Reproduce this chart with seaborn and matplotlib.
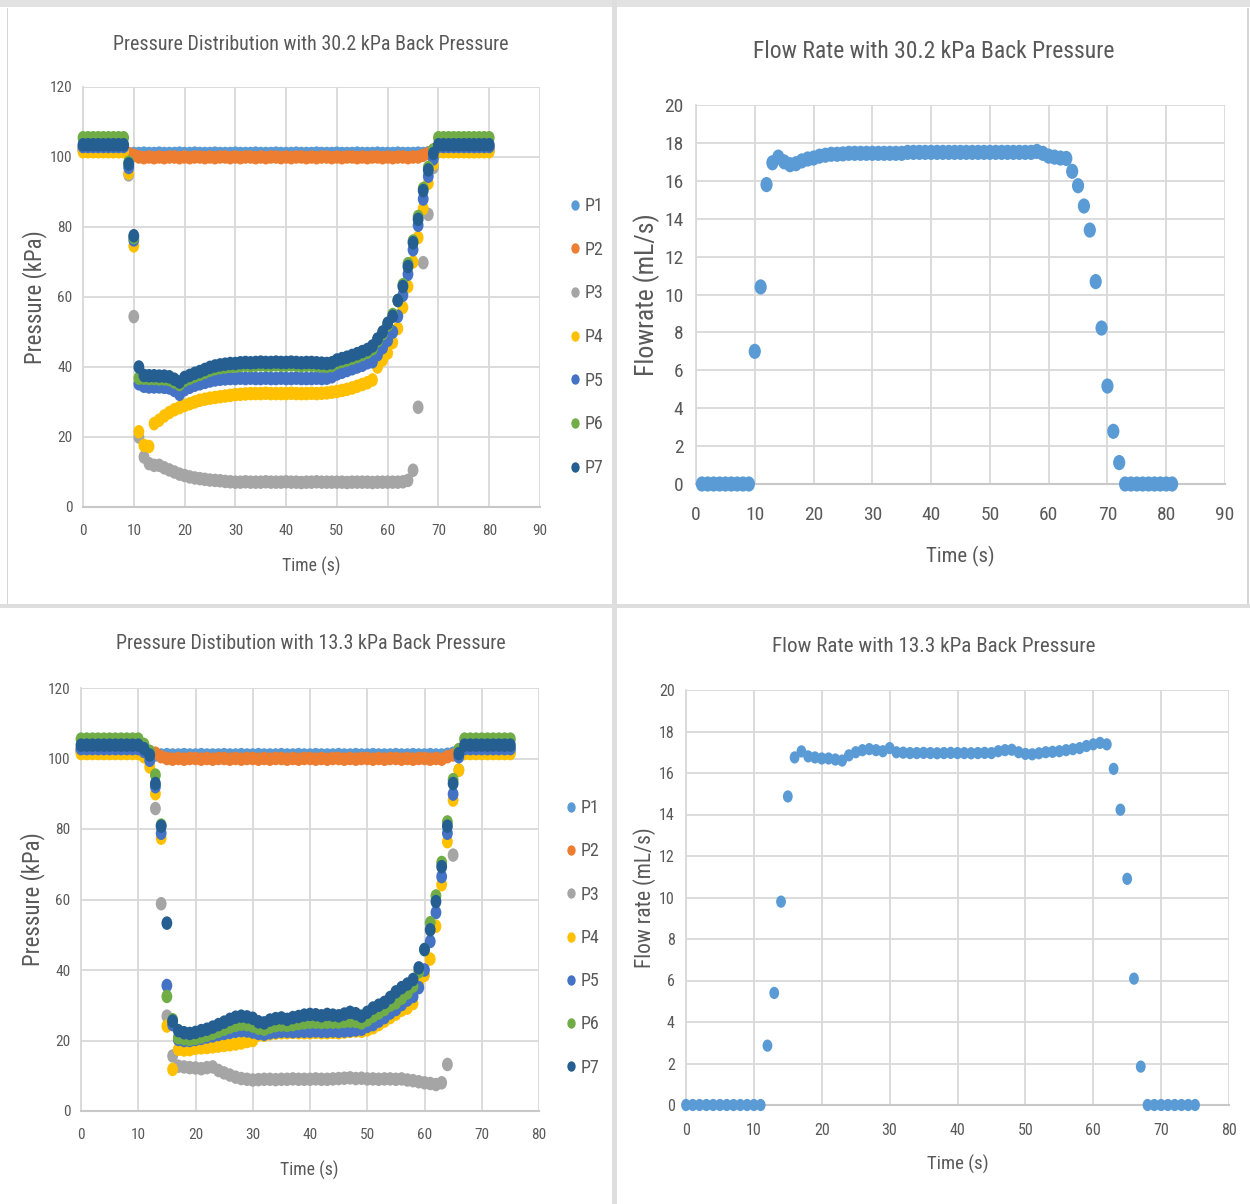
import numpy as np
import pandas as pd
import matplotlib
matplotlib.use("Agg")
import matplotlib.pyplot as plt
from matplotlib import font_manager as fm
from matplotlib.path import Path
from matplotlib.lines import Line2D
from matplotlib.patches import Rectangle
import seaborn as sns

# ---------------- data ----------------
sensors = ["P1", "P2", "P3", "P4", "P5", "P6", "P7"]
colors = ["#5B9BD5", "#ED7D31", "#A5A5A5", "#FFC000", "#4472C4", "#70AD47", "#255E91"]

# 30.2 kPa back pressure, time 0..80 s
time_a = list(range(0, 81))
a_P1 = [102.0, 102.0, 102.0, 102.0, 102.0, 102.0, 102.0, 102.0, 102.0, 100.8,
        101.0, 101.0, 101.1, 101.0, 101.0, 101.1, 101.0, 101.0, 101.0, 101.1,
        101.0, 101.0, 101.1, 101.0, 101.0, 101.0, 101.1, 101.0, 101.0, 101.0,
        101.1, 101.0, 101.0, 101.0, 101.1, 101.0, 101.0, 101.0, 101.1, 101.0,
        101.0, 101.0, 101.1, 101.0, 101.0, 101.0, 101.1, 101.0, 101.0, 101.0,
        101.1, 101.0, 101.0, 101.0, 101.1, 101.0, 101.0, 101.0, 101.1, 101.0,
        101.0, 101.0, 101.1, 101.0, 101.0, 101.0, 101.1, 101.0, 101.2, 101.5,
        102.0, 102.0, 102.0, 102.0, 102.0, 102.0, 102.0, 102.0, 102.0, 102.0, 102.0]
a_P2 = [102.5, 102.5, 102.5, 102.5, 102.5, 102.5, 102.5, 102.5, 102.5, 101.0,
        100.5, 100.0, 99.8, 100.0, 99.8, 100.0, 99.8, 100.0, 100.0, 99.8,
        100.0, 99.8, 100.0, 100.0, 99.8, 100.0, 99.8, 100.0, 100.0, 99.8,
        100.0, 99.8, 100.0, 100.0, 99.8, 100.0, 99.8, 100.0, 100.0, 99.8,
        100.0, 99.8, 100.0, 100.0, 99.8, 100.0, 99.8, 100.0, 100.0, 99.8,
        100.0, 99.8, 100.0, 100.0, 99.8, 100.0, 99.8, 100.0, 100.0, 99.8,
        100.0, 99.8, 100.0, 100.0, 99.8, 100.0, 100.0, 100.5, 101.0, 102.0,
        102.5, 102.5, 102.5, 102.5, 102.5, 102.5, 102.5, 102.5, 102.5, 102.5, 102.5]
a_P3 = [102.0, 102.0, 102.0, 102.0, 102.0, 102.0, 102.0, 102.0, 102.0, 94.9,
        54.4, 20.0, 14.3, 12.4, 11.9, 11.9, 11.2, 10.6, 10.0, 9.4,
        9.0, 8.6, 8.3, 8.1, 7.9, 7.7, 7.6, 7.5, 7.3, 7.2,
        7.1, 7.1, 7.2, 7.1, 7.1, 7.1, 7.2, 7.1, 7.1, 7.1,
        7.2, 7.1, 7.1, 7.0, 7.1, 7.1, 7.2, 7.1, 7.1, 7.1,
        7.1, 7.1, 7.0, 7.1, 7.1, 7.1, 7.1, 7.0, 7.1, 7.1,
        7.1, 7.1, 7.1, 7.2, 7.6, 10.5, 28.5, 69.8, 83.6, 97.0,
        102.0, 102.0, 102.0, 102.0, 102.0, 102.0, 102.0, 102.0, 102.0, 102.0, 102.0]
a_P4 = [101.5, 101.5, 101.5, 101.5, 101.5, 101.5, 101.5, 101.5, 101.5, 95.4,
        74.6, 21.5, 17.6, 17.3, 23.8, 24.8, 26.0, 27.0, 27.8, 28.4,
        29.0, 29.5, 30.0, 30.5, 30.8, 31.1, 31.3, 31.5, 31.7, 31.9,
        32.1, 32.2, 32.3, 32.4, 32.4, 32.4, 32.5, 32.4, 32.4, 32.4,
        32.4, 32.5, 32.4, 32.4, 32.4, 32.5, 32.4, 32.5, 32.6, 32.8,
        33.0, 33.3, 33.6, 34.0, 34.5, 35.0, 35.5, 36.3, 40.0, 42.0,
        44.0, 47.0, 51.0, 57.0, 63.0, 70.0, 77.0, 85.3, 92.5, 98.0,
        101.5, 101.5, 101.5, 101.5, 101.5, 101.5, 101.5, 101.5, 101.5, 101.5, 101.5]
a_P5 = [103.0, 103.0, 103.0, 103.0, 103.0, 103.0, 103.0, 103.0, 103.0, 97.0,
        76.3, 35.2, 34.5, 34.3, 34.3, 34.3, 34.2, 34.0, 33.3, 32.2,
        33.5, 34.2, 34.8, 35.2, 35.6, 36.0, 36.3, 36.5, 36.6, 36.7,
        36.7, 36.8, 36.7, 36.8, 36.7, 36.7, 36.8, 36.7, 36.7, 36.8,
        36.7, 36.7, 36.8, 36.7, 36.7, 36.7, 36.8, 36.7, 36.8, 37.2,
        38.0, 38.5, 39.0, 39.5, 40.0, 40.5, 41.2, 41.5, 43.5, 45.5,
        47.6, 50.0, 54.5, 60.5, 66.5, 73.5, 80.5, 88.0, 94.5, 99.5,
        103.0, 103.0, 103.0, 103.0, 103.0, 103.0, 103.0, 103.0, 103.0, 103.0, 103.0]
a_P6 = [105.5, 105.5, 105.5, 105.5, 105.5, 105.5, 105.5, 105.5, 105.5, 98.5,
        77.0, 36.8, 36.8, 36.7, 36.7, 36.6, 36.6, 36.4, 35.7, 35.0,
        36.2, 36.8, 37.4, 37.9, 38.5, 39.1, 39.5, 39.8, 40.0, 40.2,
        40.2, 40.4, 40.5, 40.4, 40.5, 40.6, 40.5, 40.5, 40.6, 40.5,
        40.5, 40.6, 40.5, 40.4, 40.5, 40.5, 40.4, 40.3, 40.2, 40.4,
        41.2, 41.6, 42.0, 42.5, 43.0, 43.6, 44.2, 45.2, 47.5, 49.5,
        52.0, 55.0, 59.0, 63.5, 69.5, 76.0, 83.0, 91.0, 97.0, 102.0,
        105.5, 105.5, 105.5, 105.5, 105.5, 105.5, 105.5, 105.5, 105.5, 105.5, 105.5]
a_P7 = [103.5, 103.5, 103.5, 103.5, 103.5, 103.5, 103.5, 103.5, 103.5, 98.0,
        77.5, 40.0, 37.6, 37.5, 37.5, 37.4, 37.4, 37.2, 36.5, 35.7,
        37.0, 37.6, 38.2, 38.7, 39.3, 39.9, 40.3, 40.6, 40.8, 41.0,
        41.0, 41.2, 41.3, 41.2, 41.3, 41.4, 41.3, 41.3, 41.4, 41.3,
        41.3, 41.4, 41.3, 41.2, 41.3, 41.3, 41.2, 41.1, 41.0, 41.2,
        42.0, 42.4, 42.8, 43.3, 43.8, 44.4, 45.0, 46.0, 48.0, 50.0,
        52.5, 54.5, 59.0, 63.0, 68.7, 75.5, 82.2, 90.4, 96.3, 101.0,
        103.5, 103.5, 103.5, 103.5, 103.5, 103.5, 103.5, 103.5, 103.5, 103.5, 103.5]

# flow rate, 30.2 kPa, time 1..81 s
time_fa = list(range(1, 82))
flow_a = [0, 0, 0, 0, 0, 0, 0, 0, 0,
          7.0, 10.4, 15.8, 16.95, 17.25, 17.0, 16.85, 16.9, 17.05, 17.15,
          17.2, 17.3, 17.35, 17.4, 17.4, 17.42, 17.45, 17.45, 17.45, 17.45,
          17.45, 17.45, 17.45, 17.45, 17.45, 17.45, 17.5, 17.5, 17.5, 17.5,
          17.5, 17.5, 17.5, 17.5, 17.5, 17.5, 17.5, 17.5, 17.5, 17.5,
          17.5, 17.5, 17.5, 17.5, 17.5, 17.5, 17.5, 17.5, 17.55, 17.45,
          17.3, 17.25, 17.2, 17.18, 16.5, 15.74, 14.67, 13.4, 10.68, 8.23,
          5.17, 2.78, 1.13, 0, 0, 0, 0, 0, 0, 0,
          0, 0]

# 13.3 kPa back pressure, time 0..75 s
time_b = list(range(0, 76))
b_P1 = [102.0, 102.0, 102.0, 102.0, 102.0, 102.0, 102.0, 102.0, 102.0, 102.0,
        102.0, 102.0, 101.5, 101.0, 101.0, 101.1, 101.0, 101.0, 101.1, 101.0,
        101.0, 101.1, 101.0, 101.0, 101.0, 101.1, 101.0, 101.0, 101.1, 101.0,
        101.0, 101.1, 101.0, 101.0, 101.0, 101.1, 101.0, 101.0, 101.1, 101.0,
        101.0, 101.1, 101.0, 101.0, 101.0, 101.1, 101.0, 101.0, 101.1, 101.0,
        101.0, 101.1, 101.0, 101.0, 101.0, 101.1, 101.0, 101.0, 101.1, 101.0,
        101.0, 101.1, 101.0, 101.0, 101.2, 101.5, 102.0, 102.0, 102.0, 102.0,
        102.0, 102.0, 102.0, 102.0, 102.0, 102.0]
b_P2 = [102.5, 102.5, 102.5, 102.5, 102.5, 102.5, 102.5, 102.5, 102.5, 102.5,
        102.5, 102.5, 102.0, 101.5, 100.5, 100.0, 99.8, 100.0, 99.8, 100.0,
        100.0, 99.8, 100.0, 99.8, 100.0, 100.0, 99.8, 100.0, 99.8, 100.0,
        100.0, 99.8, 100.0, 99.8, 100.0, 100.0, 99.8, 100.0, 99.8, 100.0,
        100.0, 99.8, 100.0, 99.8, 100.0, 100.0, 99.8, 100.0, 99.8, 100.0,
        100.0, 99.8, 100.0, 99.8, 100.0, 100.0, 99.8, 100.0, 99.8, 100.0,
        100.0, 99.8, 100.0, 99.8, 100.5, 101.0, 102.5, 102.5, 102.5, 102.5,
        102.5, 102.5, 102.5, 102.5, 102.5, 102.5]
b_P3 = [102.0, 102.0, 102.0, 102.0, 102.0, 102.0, 102.0, 102.0, 102.0, 102.0,
        102.0, 101.5, 99.0, 85.8, 58.8, 26.9, 15.6, 12.7, 12.5, 12.3,
        12.2, 12.0, 12.3, 12.5, 11.5, 10.8, 10.2, 9.6, 9.2, 9.0,
        8.8, 8.9, 9.0, 9.0, 8.9, 9.0, 9.0, 9.1, 9.0, 9.0,
        9.0, 9.1, 9.0, 9.0, 9.1, 9.2, 9.3, 9.4, 9.2, 9.3,
        9.1, 9.1, 9.0, 9.1, 9.1, 9.0, 9.1, 8.8, 8.6, 8.3,
        8.0, 7.8, 7.5, 8.0, 13.2, 72.6, 96.7, 102.0, 102.0, 102.0,
        102.0, 102.0, 102.0, 102.0, 102.0, 102.0]
b_P4 = [101.4, 101.4, 101.4, 101.4, 101.4, 101.4, 101.4, 101.4, 101.4, 101.4,
        101.4, 100.5, 97.6, 90.0, 77.4, 24.1, 11.8, 17.5, 17.3, 17.4,
        17.8, 17.9, 18.0, 18.2, 18.4, 18.6, 18.8, 19.0, 19.3, 19.7,
        20.0, 21.6, 21.5, 21.9, 22.1, 22.2, 22.2, 22.3, 22.2, 22.2,
        22.2, 22.3, 22.2, 22.2, 22.3, 22.2, 22.4, 22.6, 22.7, 22.6,
        23.0, 23.6, 24.5, 25.5, 26.5, 27.5, 28.6, 29.2, 30.5, 36.3,
        38.5, 43.1, 52.4, 64.2, 76.4, 88.2, 96.7, 101.4, 101.4, 101.4,
        101.4, 101.4, 101.4, 101.4, 101.4, 101.4]
b_P5 = [102.8, 102.8, 102.8, 102.8, 102.8, 102.8, 102.8, 102.8, 102.8, 102.8,
        102.8, 102.0, 99.5, 92.0, 78.8, 35.6, 24.5, 20.3, 20.0, 20.0,
        20.3, 20.6, 21.0, 21.3, 21.7, 22.0, 22.3, 22.6, 22.8, 22.7,
        22.4, 22.0, 21.8, 22.2, 22.4, 22.6, 22.6, 22.5, 22.6, 22.6,
        22.6, 22.7, 22.6, 22.6, 22.7, 22.6, 22.7, 22.8, 23.0, 23.2,
        24.0, 24.5, 25.5, 26.5, 27.8, 28.8, 30.2, 31.5, 32.5, 35.0,
        40.0, 48.1, 56.3, 66.5, 78.8, 89.9, 100.5, 102.8, 102.8, 102.8,
        102.8, 102.8, 102.8, 102.8, 102.8, 102.8]
b_P6 = [105.5, 105.5, 105.5, 105.5, 105.5, 105.5, 105.5, 105.5, 105.5, 105.5,
        105.5, 104.0, 102.0, 95.3, 81.1, 32.5, 25.9, 20.8, 20.5, 20.3,
        20.6, 21.0, 21.5, 22.0, 22.6, 23.2, 23.8, 24.3, 24.6, 24.5,
        24.1, 23.5, 23.2, 23.8, 24.2, 24.4, 24.3, 24.5, 24.8, 25.0,
        25.2, 25.2, 25.1, 25.2, 25.2, 25.2, 25.4, 25.5, 25.4, 25.0,
        25.8, 26.9, 27.8, 28.8, 30.0, 30.7, 32.0, 33.5, 35.4, 39.5,
        45.8, 53.4, 61.0, 70.5, 82.0, 94.0, 102.5, 105.5, 105.5, 105.5,
        105.5, 105.5, 105.5, 105.5, 105.5, 105.5]
b_P7 = [103.8, 103.8, 103.8, 103.8, 103.8, 103.8, 103.8, 103.8, 103.8, 103.8,
        103.8, 102.8, 101.0, 92.9, 80.8, 53.3, 25.5, 22.8, 22.2, 22.0,
        22.3, 22.8, 23.2, 23.8, 24.5, 25.2, 26.0, 26.6, 26.9, 26.7,
        26.3, 25.3, 25.0, 25.8, 26.2, 26.4, 26.0, 26.5, 26.8, 27.2,
        27.4, 27.3, 27.0, 27.4, 27.2, 27.0, 27.5, 28.0, 27.6, 26.9,
        28.0, 29.2, 30.0, 30.8, 32.2, 33.8, 35.0, 36.0, 37.3, 40.6,
        45.8, 51.4, 59.4, 69.3, 80.8, 92.9, 101.4, 103.8, 103.8, 103.8,
        103.8, 103.8, 103.8, 103.8, 103.8, 103.8]

# flow rate, 13.3 kPa, time 0..75 s
time_fb = list(range(0, 76))
flow_b = [0, 0, 0, 0, 0, 0, 0, 0, 0, 0,
          0, 0, 2.86, 5.4, 9.8, 14.87, 16.75, 17.04, 16.8, 16.75,
          16.7, 16.7, 16.65, 16.6, 16.85, 17.0, 17.1, 17.15, 17.1, 17.05,
          17.2, 17.0, 16.98, 16.96, 16.96, 16.97, 16.96, 16.95, 16.96, 16.97,
          16.96, 16.96, 16.95, 16.96, 16.97, 16.96, 17.05, 17.1, 17.12, 17.0,
          16.92, 16.9, 16.95, 17.0, 17.02, 17.05, 17.1, 17.15, 17.2, 17.3,
          17.38, 17.45, 17.38, 16.2, 14.23, 10.9, 6.09, 1.85, 0, 0,
          0, 0, 0, 0, 0, 0]

titles = ["Pressure Distribution with 30.2 kPa Back Pressure",
          "Flow Rate with 30.2 kPa Back Pressure",
          "Pressure Distibution with 13.3 kPa Back Pressure",
          "Flow Rate with 13.3 kPa Back Pressure"]

# ---------------- style ----------------
avail = {f.name for f in fm.fontManager.ttflist}
FONT = "DejaVu Sans"
for cand in ["Liberation Sans Narrow", "Roboto Condensed", "Open Sans Condensed", "Noto Sans"]:
    if cand in avail:
        FONT = cand
        break
plt.rcParams["font.family"] = [FONT, "DejaVu Sans"]
TXT = "#595959"
GRID = "#d9d9d9"

W, H = 1250, 1204
fig = plt.figure(figsize=(W / 100, H / 100), dpi=100)
fig.patch.set_facecolor("white")


def rect_px(l, t, r, b):
    return [l / W, 1 - b / H, (r - l) / W, (b - t) / H]


# panel frame / separators
fig.patches.append(Rectangle((0, 1 - 7 / H), 1, 7 / H, transform=fig.transFigure,
                             facecolor="#e2e2e2", edgecolor="none", zorder=0))
fig.patches.append(Rectangle((612 / W, 0), 5 / W, 1, transform=fig.transFigure,
                             facecolor="#dedede", edgecolor="none", zorder=0))
fig.patches.append(Rectangle((0, 1 - 608 / H), 1, 4 / H, transform=fig.transFigure,
                             facecolor="#dedede", edgecolor="none", zorder=0))
fig.patches.append(Rectangle((7 / W, 1 - 604 / H), 1 / W, 596 / H, transform=fig.transFigure,
                             facecolor="#d6d6d6", edgecolor="none", zorder=0))
fig.patches.append(Rectangle((1247 / W, 1 - 604 / H), 1.5 / W, 596 / H, transform=fig.transFigure,
                             facecolor="#d6d6d6", edgecolor="none", zorder=0))

circ = Path.unit_circle()
ELL = Path(circ.vertices * np.array([0.8, 1.0]), circ.codes)


def style_axes(ax, xmax, ymax, ystep, tick_fs, xpad, ypad):
    ax.set_xlim(0, xmax)
    ax.set_ylim(0, ymax)
    ax.set_xticks(np.arange(0, xmax + 1, 10))
    ax.set_yticks(np.arange(0, ymax + 0.1, ystep))
    ax.grid(True, color=GRID, lw=1.3)
    ax.set_axisbelow(True)
    for s in ["top", "right"]:
        ax.spines[s].set_visible(False)
    ax.spines["left"].set_color(GRID)
    ax.spines["left"].set_linewidth(1.3)
    ax.spines["bottom"].set_color("#c8c8c8")
    ax.spines["bottom"].set_linewidth(1.5)
    ax.tick_params(axis="both", length=0, labelsize=tick_fs, colors=TXT)
    ax.tick_params(axis="x", pad=xpad)
    ax.tick_params(axis="y", pad=ypad)
    ax.set_xlabel("")
    ax.set_ylabel("")
    ax.set_facecolor("white")
    yt = ax.get_yticks()
    ax.set_yticklabels([f"{v:g}" for v in yt])


def pressure_panel(rect, t, series, xmax, ms, leg_xy, leg_sp):
    ax = fig.add_axes(rect)
    rows = []
    for name, vals in zip(sensors, series):
        for tt, v in zip(t, vals):
            rows.append((tt, v, name))
    df = pd.DataFrame(rows, columns=["Time", "Pressure", "Sensor"])
    sns.scatterplot(data=df, x="Time", y="Pressure", hue="Sensor", hue_order=sensors,
                    palette=dict(zip(sensors, colors)), marker=ELL, s=ms,
                    edgecolor="none", linewidth=0, legend=False, ax=ax, clip_on=False, zorder=3)
    style_axes(ax, xmax, 120, 20, 11, 12, 7.5)
    handles = [Line2D([], [], ls="none", marker=ELL, markersize=7.5, color=c,
                      markeredgewidth=0) for c in colors]
    ax.legend(handles, sensors, loc="upper left", bbox_to_anchor=leg_xy,
              bbox_transform=fig.transFigure, frameon=False, fontsize=13,
              labelcolor=TXT, handletextpad=0.05, labelspacing=leg_sp,
              handlelength=1.0, borderpad=0, borderaxespad=0)
    return ax


def flow_panel(rect, t, vals, xmax, ms, tick_fs, xpad, ypad):
    ax = fig.add_axes(rect)
    df = pd.DataFrame({"Time": t, "Flow": vals})
    sns.scatterplot(data=df, x="Time", y="Flow", color="#5B9BD5", marker=ELL, s=ms,
                    edgecolor="none", linewidth=0, ax=ax, clip_on=False, zorder=3)
    style_axes(ax, xmax, 20, 2, tick_fs, xpad, ypad)
    return ax


ax1 = pressure_panel(rect_px(83, 87, 540, 507), time_a,
                     [a_P1, a_P2, a_P3, a_P4, a_P5, a_P6, a_P7], 90, 95,
                     (566 / W, 1 - 197 / H), 1.42)
ax2 = flow_panel(rect_px(696, 105, 1225, 484), time_fa, flow_a, 90, 120, 14, 16, 9)
ax3 = pressure_panel(rect_px(81, 688, 539, 1111), time_b,
                     [b_P1, b_P2, b_P3, b_P4, b_P5, b_P6, b_P7], 80, 95,
                     (562 / W, 1 - 799 / H), 1.40)
ax4 = flow_panel(rect_px(686, 690, 1229, 1105), time_fb, flow_b, 80, 78, 11.5, 13, 8)


def ftext(x, y, s, size, rot=0):
    fig.text(x / W, 1 - y / H, s, ha="center", va="center", fontsize=size,
             color=TXT, rotation=rot)


ftext(311, 44, titles[0], 14.4)
ftext(934, 52, titles[1], 17)
ftext(311, 644, titles[2], 14.4)
ftext(934, 646, titles[3], 15.2)

ftext(311, 566, "Time (s)", 12.8)
ftext(35, 297, "Pressure (kPa)", 16.5, 90)
ftext(960, 556, "Time (s)", 15)
ftext(647, 295, "Flowrate (mL/s)", 18.5, 90)
ftext(309, 1170, "Time (s)", 12.8)
ftext(33, 899, "Pressure (kPa)", 16.5, 90)
ftext(645, 898, "Flow rate (mL/s)", 15.5, 90)
ftext(958, 1164, "Time (s)", 13.5)

fig.savefig("out.png", dpi=100, facecolor="white")
